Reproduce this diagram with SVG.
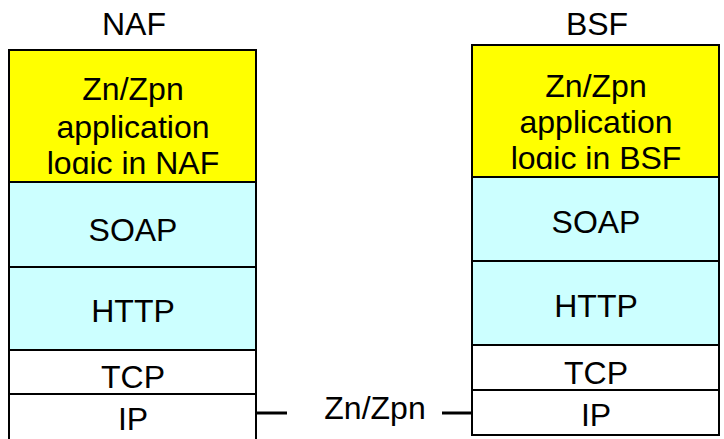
<svg xmlns="http://www.w3.org/2000/svg" width="724" height="439" viewBox="0 0 724 439">
<style>
text{font-family:"Liberation Sans",Arial,sans-serif;font-size:32px;fill:#000;text-anchor:middle}
.app{fill:#FFFF00;stroke:#000;stroke-width:2}
.proto{fill:#CCFFFF;stroke:#000;stroke-width:2}
.plain{fill:#FFFFFF;stroke:#000;stroke-width:2}
.conn{stroke:#000;stroke-width:3;fill:none}
</style>
<defs>
<clipPath id="clipNaf"><rect x="9" y="50" width="247" height="124"/></clipPath>
<clipPath id="clipBsf"><rect x="472" y="45" width="247" height="124"/></clipPath>
</defs>
<g id="naf-title"><text x="134" y="35">NAF</text></g>
<g id="bsf-title"><text x="597" y="35">BSF</text></g>
<g id="naf-app">
<rect class="app" x="9" y="50" width="247" height="132"/>
<g clip-path="url(#clipNaf)">
<text x="133" y="100">Zn/Zpn</text>
<text x="133" y="138">application</text>
<text x="133" y="174">logic in NAF</text>
</g>
</g>
<g id="naf-soap"><rect class="proto" x="9" y="182" width="247" height="85"/><text x="133" y="241">SOAP</text></g>
<g id="naf-http"><rect class="proto" x="9" y="267" width="247" height="83"/><text x="133" y="322">HTTP</text></g>
<g id="naf-tcp"><rect class="plain" x="9" y="350" width="247" height="44"/><text x="133" y="388">TCP</text></g>
<g id="naf-ip"><rect class="plain" x="9" y="394" width="247" height="50"/><text x="133" y="430">IP</text></g>
<g id="bsf-app">
<rect class="app" x="472" y="45" width="247" height="132"/>
<g clip-path="url(#clipBsf)">
<text x="596" y="97">Zn/Zpn</text>
<text x="596" y="133">application</text>
<text x="596" y="169">logic in BSF</text>
</g>
</g>
<g id="bsf-soap"><rect class="proto" x="472" y="177" width="247" height="84"/><text x="596" y="233">SOAP</text></g>
<g id="bsf-http"><rect class="proto" x="472" y="261" width="247" height="84"/><text x="596" y="317">HTTP</text></g>
<g id="bsf-tcp"><rect class="plain" x="472" y="345" width="247" height="45"/><text x="596" y="384">TCP</text></g>
<g id="bsf-ip"><rect class="plain" x="472" y="390" width="247" height="45"/><text x="596" y="426">IP</text></g>
<g id="connectors">
<line class="conn" x1="256" y1="413" x2="287" y2="413"/>
<line class="conn" x1="442" y1="413" x2="472" y2="413"/>
<text x="375" y="419">Zn/Zpn</text>
</g>
</svg>
